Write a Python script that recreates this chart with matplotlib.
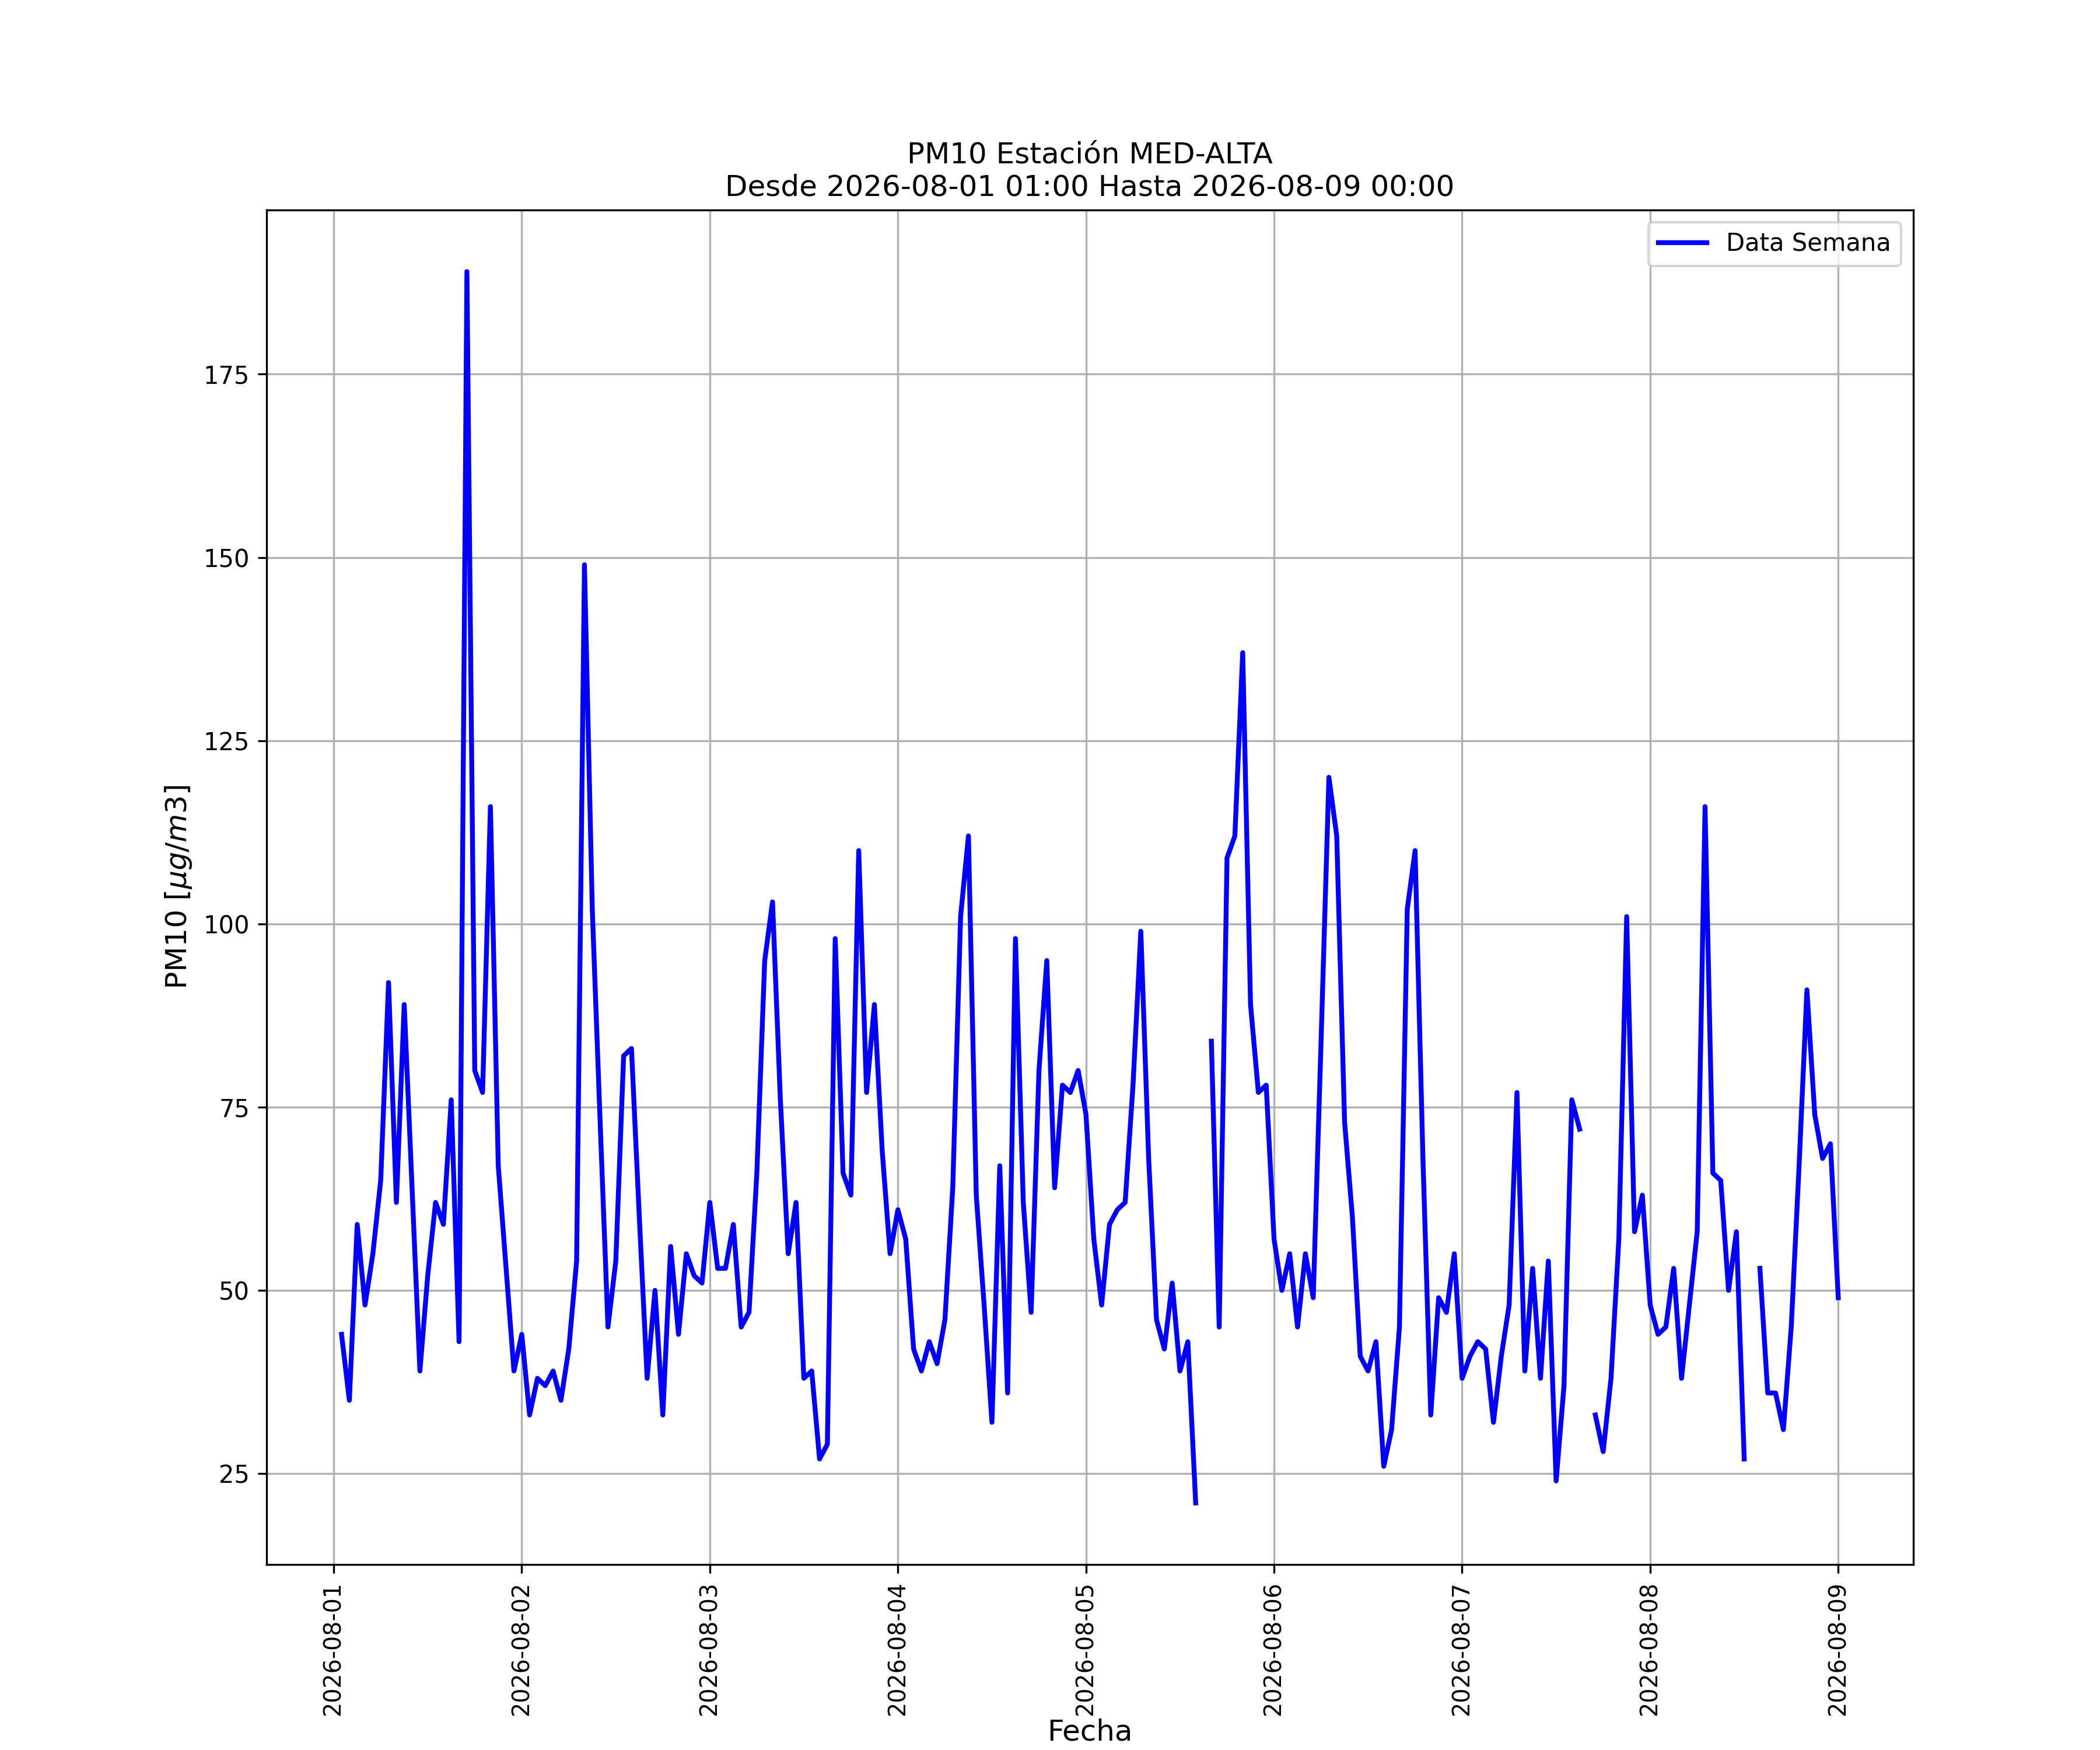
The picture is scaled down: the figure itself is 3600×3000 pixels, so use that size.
import numpy as np
import pandas as pd
import matplotlib
matplotlib.use('Agg')
import matplotlib.pyplot as plt

nan = np.nan
# hourly PM10 readings, 2026-08-01 01:00 .. 2026-08-09 00:00
day1 = [44, 35, 59, 48, 55, 65, 92, 62, 89, 64, 39, 52, 62, 59, 76, 43, 189, 80, 77, 116, 67, 53, 39, 44]
day2 = [33, 38, 37, 39, 35, 42, 54, 149, 102, 73, 45, 54, 82, 83, 60, 38, 50, 33, 56, 44, 55, 52, 51, 62]
day3 = [53, 53, 59, 45, 47, 66, 95, 103, 76, 55, 62, 38, 39, 27, 29, 98, 66, 63, 110, 77, 89, 69, 55, 61]
day4 = [57, 42, 39, 43, 40, 46, 64, 101, 112, 63, 48, 32, 67, 36, 98, 62, 47, 80, 95, 64, 78, 77, 80, 74]
day5 = [57, 48, 59, 61, 62, 78, 99, 68, 46, 42, 51, 39, 43, 21, nan, 84, 45, 109, 112, 137, 89, 77, 78, 57]
day6 = [50, 55, 45, 55, 49, 84, 120, 112, 73, 60, 41, 39, 43, 26, 31, 45, 102, 110, 68, 33, 49, 47, 55, 38]
day7 = [41, 43, 42, 32, 41, 48, 77, 39, 53, 38, 54, 24, 37, 76, 72, nan, 33, 28, 38, 57, 101, 58, 63, 48]
day8 = [44, 45, 53, 38, 48, 58, 116, 66, 65, 50, 58, 27, nan, 53, 36, 36, 31, 45, 67, 91, 74, 68, 70, 49]

pm10 = day1 + day2 + day3 + day4 + day5 + day6 + day7 + day8
fechas = pd.date_range('2026-08-01 01:00', periods=len(pm10), freq='h')

fig, ax = plt.subplots(figsize=(12, 10), dpi=300)
fig.subplots_adjust(left=0.127, right=0.911, bottom=0.106, top=0.88)
ax.plot(fechas, pm10, 'b-', linewidth=2, label='Data Semana')
ax.set_title('PM10 Estación MED-ALTA\nDesde 2026-08-01 01:00 Hasta 2026-08-09 00:00')
ax.set_xlabel('Fecha', fontsize=12, labelpad=1)
ax.set_ylabel('PM10 [$\\mu g/m3$]', fontsize=12)
ax.grid(True)
ax.legend(loc='upper right')
plt.setp(ax.get_xticklabels(), rotation=90, fontsize=9.5)
fig.savefig('out.png')
